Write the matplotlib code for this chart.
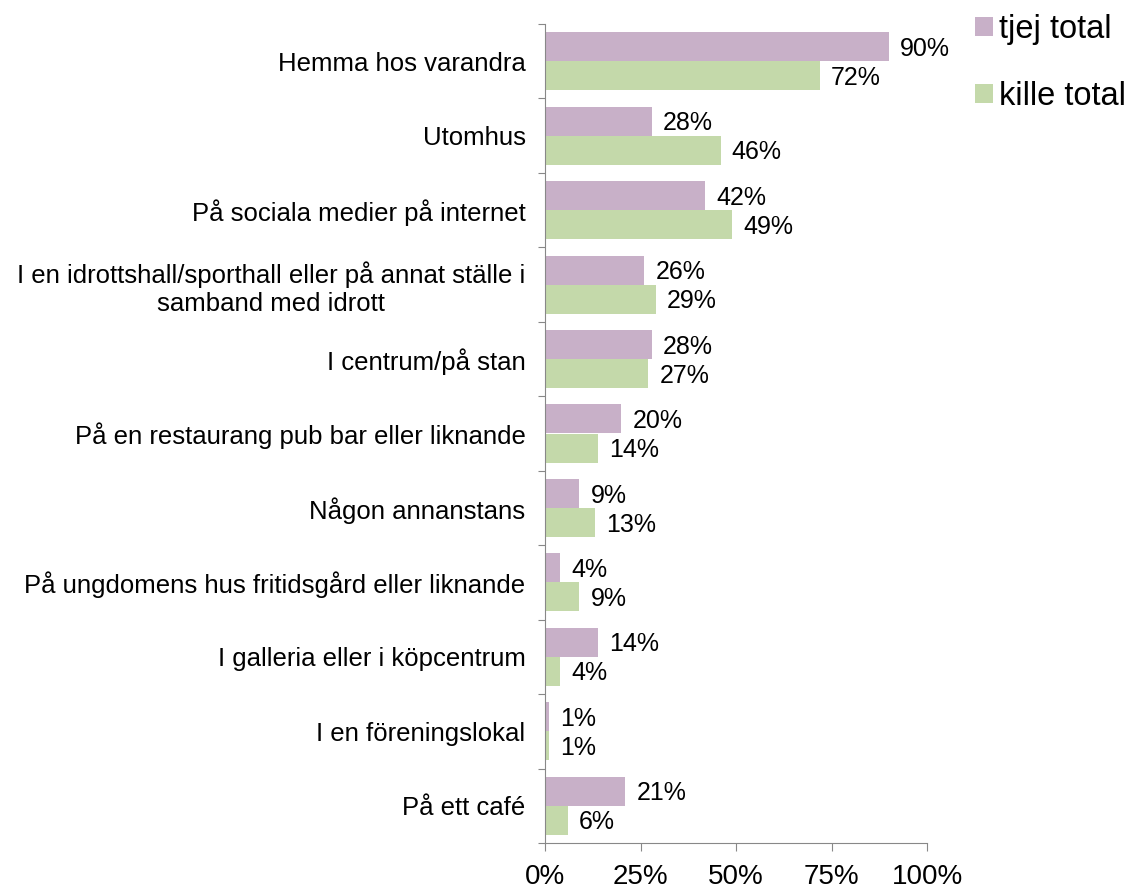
import matplotlib.pyplot as plt
import numpy as np

plt.rcParams['font.family'] = ['Liberation Sans', 'DejaVu Sans']

categories = [
    "Hemma hos varandra",
    "Utomhus",
    "På sociala medier på internet",
    "I en idrottshall/sporthall eller på annat ställe i\nsamband med idrott",
    "I centrum/på stan",
    "På en restaurang pub bar eller liknande",
    "Någon annanstans",
    "På ungdomens hus fritidsgård eller liknande",
    "I galleria eller i köpcentrum",
    "I en föreningslokal",
    "På ett café",
]
tjej = [90, 28, 42, 26, 28, 20, 9, 4, 14, 1, 21]
kille = [72, 46, 49, 29, 27, 14, 13, 9, 4, 1, 6]
series_names = ["tjej total", "kille total"]
colors = ["#c8b0c8", "#c4d9aa"]
xticks = [0, 25, 50, 75, 100]

fig = plt.figure(figsize=(11.28, 8.93), dpi=100)
ax = fig.add_axes([545 / 1128, 1 - 843 / 893, 382 / 1128, 819 / 893])

n = len(categories)
y = np.arange(n)
h = 0.39
b1 = ax.barh(y - h / 2, tjej, height=h, color=colors[0], label=series_names[0])
b2 = ax.barh(y + h / 2, kille, height=h, color=colors[1], label=series_names[1])

for bars, vals in [(b1, tjej), (b2, kille)]:
    for bar, v in zip(bars, vals):
        ax.annotate(f"{v}%", (v, bar.get_y() + bar.get_height() / 2),
                    xytext=(8, -1.5), textcoords="offset points",
                    va="center", ha="left", fontsize=18)

ax.set_ylim(n - 0.5, -0.5)
ax.set_xlim(0, 100)
ax.set_yticks(np.arange(n + 1) - 0.5, minor=False)
ax.set_yticklabels([])
ax.set_yticks(y, minor=True)
ax.set_yticklabels(categories, minor=True, fontsize=18.5, multialignment="center")
ax.tick_params(axis="y", which="minor", length=0, pad=14)
ax.tick_params(axis="y", which="major", length=5, color="#888888", direction="out")
ax.set_xticks(xticks)
ax.set_xticklabels([f"{t}%" for t in xticks], fontsize=20)
ax.tick_params(axis="x", length=6, color="#888888", pad=9)

for s in ["top", "right"]:
    ax.spines[s].set_visible(False)
for s in ["left", "bottom"]:
    ax.spines[s].set_color("#888888")

fig.legend(handles=[b1, b2], loc="upper left", bbox_to_anchor=(975 / 1128, 1 - 14 / 893),
           frameon=False, fontsize=23.5, handlelength=0.55, handleheight=0.55,
           handletextpad=0.2, labelspacing=1.1, borderaxespad=0, borderpad=0)

fig.savefig("out.png", dpi=100)
